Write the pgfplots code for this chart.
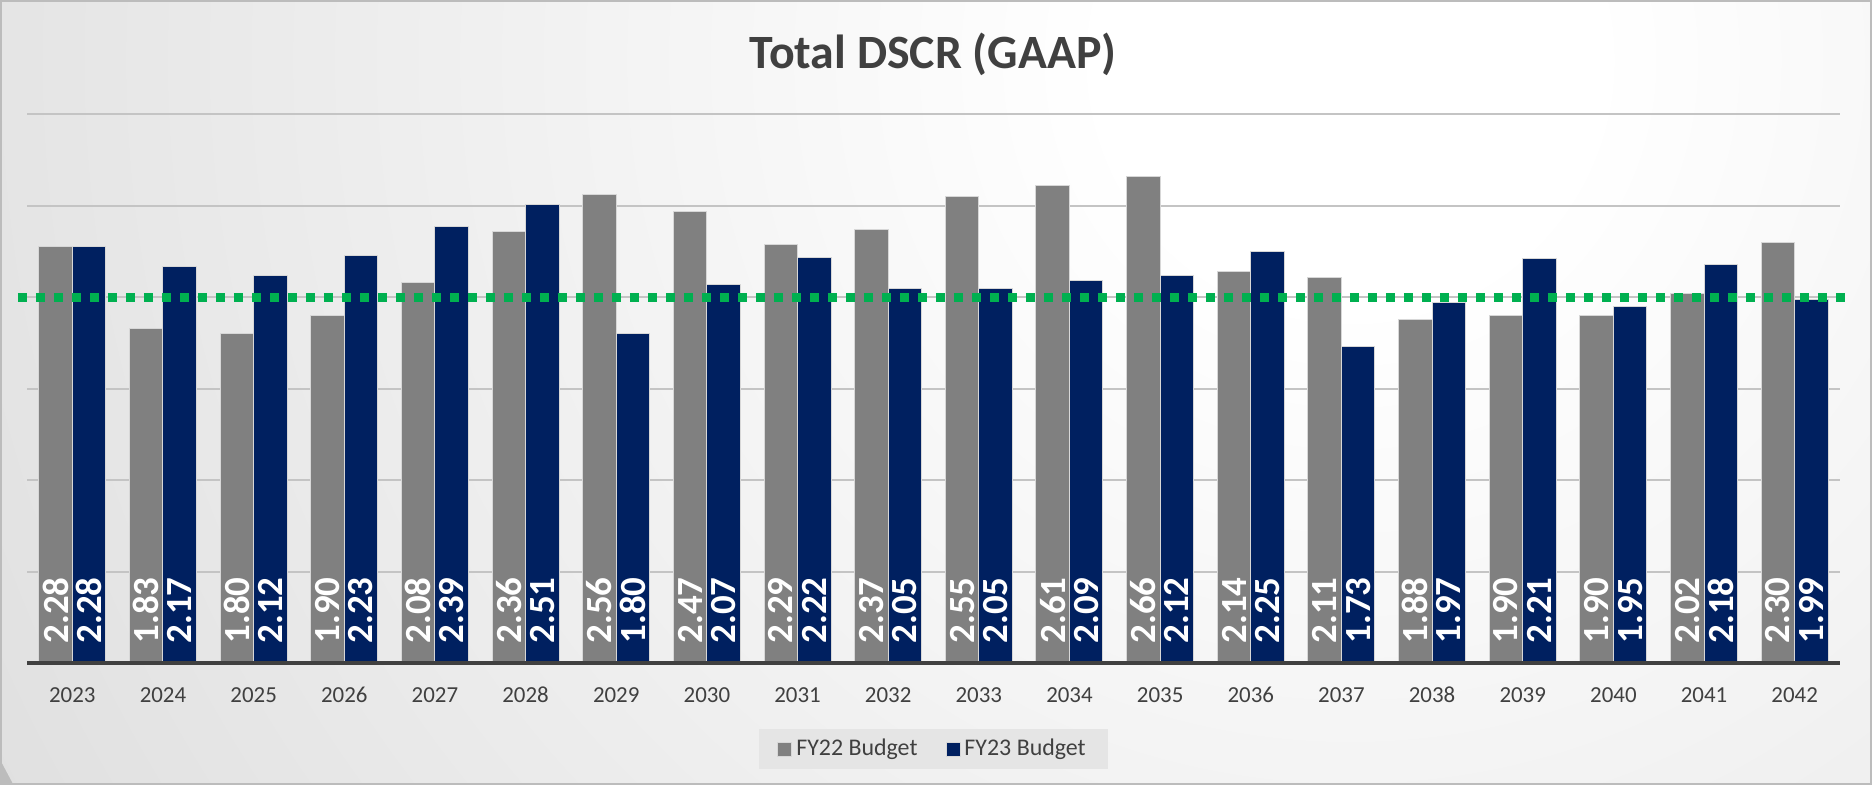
\documentclass[border=0pt]{standalone}
\usepackage{pgfplots}
\usepackage{pgfplotstable}
\pgfplotsset{compat=1.18}
\usepackage{fontspec}
\setmainfont{Carlito}

\definecolor{fytwo}{RGB}{128,128,128}
\definecolor{fythree}{RGB}{0,32,96}
\definecolor{target}{RGB}{0,176,80}
\definecolor{txt}{RGB}{64,64,64}
\definecolor{gridc}{RGB}{196,196,196}
\definecolor{barline}{RGB}{215,215,215}
\definecolor{bgedge}{RGB}{188,188,188}
\definecolor{legfill}{RGB}{229,229,229}

\pgfdeclareradialshading{bgshade}{\pgfpoint{0bp}{0bp}}{color(0bp)=(white); color(4bp)=(white); color(50bp)=(bgedge)}

% DSCR per year, both budgets
\pgfplotstableread{
i year a b
0 2023 2.28 2.28
1 2024 1.83 2.17
2 2025 1.80 2.12
3 2026 1.90 2.23
4 2027 2.08 2.39
5 2028 2.36 2.51
6 2029 2.56 1.80
7 2030 2.47 2.07
8 2031 2.29 2.22
9 2032 2.37 2.05
10 2033 2.55 2.05
11 2034 2.61 2.09
12 2035 2.66 2.12
13 2036 2.14 2.25
14 2037 2.11 1.73
15 2038 1.88 1.97
16 2039 1.90 2.21
17 2040 1.90 1.95
18 2041 2.02 2.18
19 2042 2.30 1.99
}\dscr

\begin{document}
\begin{tikzpicture}
\useasboundingbox (0,0) rectangle (936bp,392.5bp);
\fill[bgedge] (0,0) rectangle (936bp,392.5bp);
\begin{scope}
\clip (0,0) rectangle (936bp,392.5bp);
\shade[shading=bgshade] (675bp,362.5bp) circle (760bp);
\end{scope}
\draw[color=bgedge, line width=1bp] (0.5bp,0.5bp) rectangle (935.5bp,392bp);

\pgfplotsset{
  lbl/.style={
    nodes near coords,
    visualization depends on=y \as \rawy,
    every node near coord/.append style={
      shift={(axis direction cs:0,-\rawy)}, yshift=9.5bp,
      rotate=90, anchor=west, inner sep=0pt,
      color=white, font=\fontsize{18.5}{18.5}\selectfont\bfseries}
  }
}

\begin{axis}[
  at={(13.5bp,61bp)}, anchor=south west,
  scale only axis, width=906.5bp, height=274.25bp,
  xmin=-0.5, xmax=19.5, ymin=0, ymax=3,
  ybar, bar width=16.75bp,
  xtick={0,...,19},
  xticklabels={2023,2024,2025,2026,2027,2028,2029,2030,2031,2032,2033,2034,2035,2036,2037,2038,2039,2040,2041,2042},
  xticklabel style={anchor=center, yshift=-16bp, color=txt, font=\fontsize{11.5}{12}\selectfont},
  ytick={0,0.5,1,1.5,2,2.5,3}, yticklabels={},
  ymajorgrids, grid style={color=gridc, line width=1bp},
  major tick length=0pt,
  axis line style={draw=none},
  clip=false,
  /pgf/number format/assume math mode=true,
  /pgf/number format/fixed,
  /pgf/number format/fixed zerofill,
  /pgf/number format/precision=2,
  legend style={at={(0.5,-0.157)}, anchor=center, legend columns=2,
    fill=legfill, draw=none, text=txt, font=\fontsize{12}{12}\selectfont,
    inner xsep=9bp, inner ysep=3bp,
    /tikz/every even column/.append style={column sep=12bp}},
  legend image code/.code={\draw[#1] (0bp,-3.5bp) rectangle (7bp,3.5bp);},
]
\addplot[fill=fytwo, draw=barline, line width=0.5bp, bar shift=-8.375bp, lbl]
  table[x=i, y=a] {\dscr};
\addlegendentry{FY22 Budget}
\addplot[fill=fythree, draw=barline, line width=0.5bp, bar shift=8.375bp, lbl]
  table[x=i, y=b] {\dscr};
\addlegendentry{FY23 Budget}
\addplot[sharp plot, forget plot, color=target, line width=4.5bp,
  dash pattern=on 4.5bp off 4.5bp, mark=none]
  coordinates {(-0.6,2) (19.65,2)};
\draw[color=txt, line width=2bp] (axis cs:-0.5,0) -- (axis cs:19.5,0);
\end{axis}

\node[color=txt, font=\fontsize{24}{26}\selectfont\bfseries] at (466.5bp,365.5bp) {Total DSCR (GAAP)};
\end{tikzpicture}
\end{document}
